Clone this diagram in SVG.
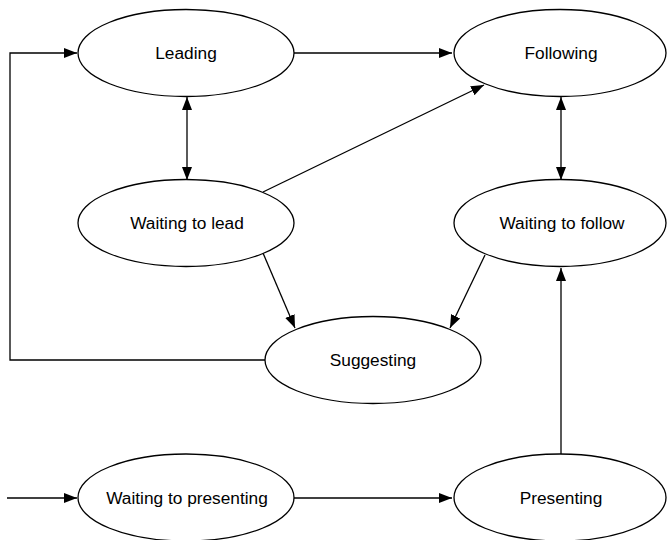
<svg xmlns="http://www.w3.org/2000/svg" width="667" height="540" viewBox="0 0 667 540">
<style>
.n ellipse{fill:#fff;stroke:#000;stroke-width:1.3}
.n text{font-family:"Liberation Sans",Arial,sans-serif;font-size:17.3px;fill:#000;text-anchor:middle;dominant-baseline:central}
.c path{fill:none;stroke:#000;stroke-width:1.3}
</style>
<defs>
<marker id="ah" markerUnits="userSpaceOnUse" markerWidth="14" markerHeight="12" refX="13" refY="5" orient="auto-start-reverse" viewBox="0 0 14 10"><path d="M0,0 L13,5 L0,10 z" fill="#000"/></marker>
</defs>
<rect width="667" height="540" fill="#fff"/>
<g id="connectors" class="c">
<path d="M265 360 L10 360 L10 53 L77 53" marker-end="url(#ah)"/>
<path d="M294 53 L452 53" marker-end="url(#ah)"/>
<path d="M263 192 L484 85" marker-end="url(#ah)"/>
<path d="M187 97 L187 180" marker-start="url(#ah)" marker-end="url(#ah)"/>
<path d="M561 97 L561 180" marker-start="url(#ah)" marker-end="url(#ah)"/>
<path d="M263 253 L295 328" marker-end="url(#ah)"/>
<path d="M485 255 L450 328" marker-end="url(#ah)"/>
<path d="M7 498 L77 498" marker-end="url(#ah)"/>
<path d="M294 498 L452 498" marker-end="url(#ah)"/>
<path d="M561 454 L561 268" marker-end="url(#ah)"/>
</g>
<g id="leading" class="n"><ellipse cx="186" cy="53" rx="108" ry="43.5"/><text x="186" y="53">Leading</text></g>
<g id="following" class="n"><ellipse cx="560" cy="53" rx="106" ry="43.5"/><text x="561" y="53">Following</text></g>
<g id="waiting-to-lead" class="n"><ellipse cx="186" cy="223" rx="108" ry="43.5"/><text x="187" y="223">Waiting to lead</text></g>
<g id="waiting-to-follow" class="n"><ellipse cx="560" cy="223" rx="106" ry="43.5"/><text x="562" y="223">Waiting to follow</text></g>
<g id="suggesting" class="n"><ellipse cx="373" cy="360" rx="108" ry="43.5"/><text x="373" y="360">Suggesting</text></g>
<g id="waiting-to-presenting" class="n"><ellipse cx="186" cy="497.5" rx="108" ry="43.5"/><text x="187" y="498">Waiting to presenting</text></g>
<g id="presenting" class="n"><ellipse cx="560" cy="497.5" rx="106" ry="43.5"/><text x="561" y="498">Presenting</text></g>
</svg>
